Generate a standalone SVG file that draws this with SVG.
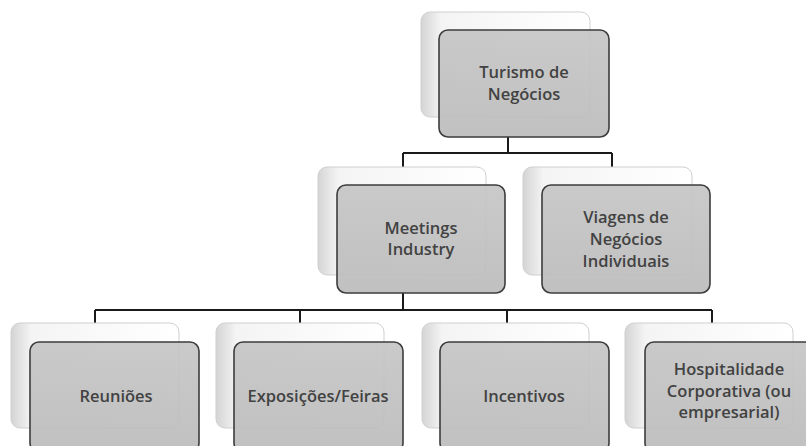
<svg xmlns="http://www.w3.org/2000/svg" width="806" height="446" viewBox="0 0 806 446">
<defs>
<linearGradient id="backg" x1="0" y1="0" x2="1" y2="0">
<stop offset="0" stop-color="#d4d4d4"/>
<stop offset="0.12" stop-color="#f4f4f4"/>
<stop offset="1" stop-color="#ffffff"/>
</linearGradient>
<linearGradient id="frontg" x1="0" y1="0" x2="0" y2="1">
<stop offset="0" stop-color="#c6c6c6"/>
<stop offset="1" stop-color="#bcbcbc"/>
</linearGradient>
</defs>
<style>
.back{fill:url(#backg);stroke:#cfcfcf;stroke-width:1}
.front{fill:url(#frontg);fill-opacity:0.93;stroke:#3c3c3c;stroke-width:1.6}
.t{font-family:"Open Sans","Liberation Sans",sans-serif;font-weight:600;font-size:16.5px;fill:#424242;text-anchor:middle}
.c{fill:none;stroke:#1a1a1a;stroke-width:2}
</style>
<rect width="806" height="446" fill="#ffffff"/>
<g id="connectors">
<path class="c" d="M508 137 V153 M403 153 H612 M403 153 V167 M612 153 V167"/>
<path class="c" d="M403 293 V310 M95 310 H712 M95 310 V323 M300 310 V323 M507 310 V323 M712 310 V323"/>
</g>
<g id="n-turismo">
<rect class="back" x="421" y="12" width="169" height="105" rx="9"/>
<rect class="front" x="439" y="30" width="170" height="107" rx="9"/>
<text class="t" x="524" y="78">Turismo de</text>
<text class="t" x="524" y="100">Negócios</text>
</g>
<g id="n-meetings">
<rect class="back" x="318" y="167" width="168" height="108" rx="9"/>
<rect class="front" x="337" y="185" width="168" height="108" rx="9"/>
<text class="t" x="421" y="234">Meetings</text>
<text class="t" x="421" y="255">Industry</text>
</g>
<g id="n-viagens">
<rect class="back" x="523" y="167" width="169" height="108" rx="9"/>
<rect class="front" x="542" y="185" width="168" height="108" rx="9"/>
<text class="t" x="626" y="223">Viagens de</text>
<text class="t" x="626" y="245">Negócios</text>
<text class="t" x="626" y="267">Individuais</text>
</g>
<g id="n-reunioes">
<rect class="back" x="11" y="323" width="168" height="105" rx="9"/>
<rect class="front" x="30" y="342" width="169" height="110" rx="9"/>
<text class="t" x="116" y="402">Reuniões</text>
</g>
<g id="n-exposicoes">
<rect class="back" x="216" y="323" width="168" height="105" rx="9"/>
<rect class="front" x="234" y="342" width="169" height="110" rx="9"/>
<text class="t" x="318" y="402">Exposições/Feiras</text>
</g>
<g id="n-incentivos">
<rect class="back" x="422" y="323" width="167" height="105" rx="9"/>
<rect class="front" x="440" y="342" width="169" height="110" rx="9"/>
<text class="t" x="524" y="402">Incentivos</text>
</g>
<g id="n-hospitalidade">
<rect class="back" x="625" y="323" width="168" height="105" rx="9"/>
<rect class="front" x="645" y="342" width="170" height="110" rx="9"/>
<text class="t" x="729" y="375">Hospitalidade</text>
<text class="t" x="729" y="397">Corporativa (ou</text>
<text class="t" x="729" y="418">empresarial)</text>
</g>
</svg>
